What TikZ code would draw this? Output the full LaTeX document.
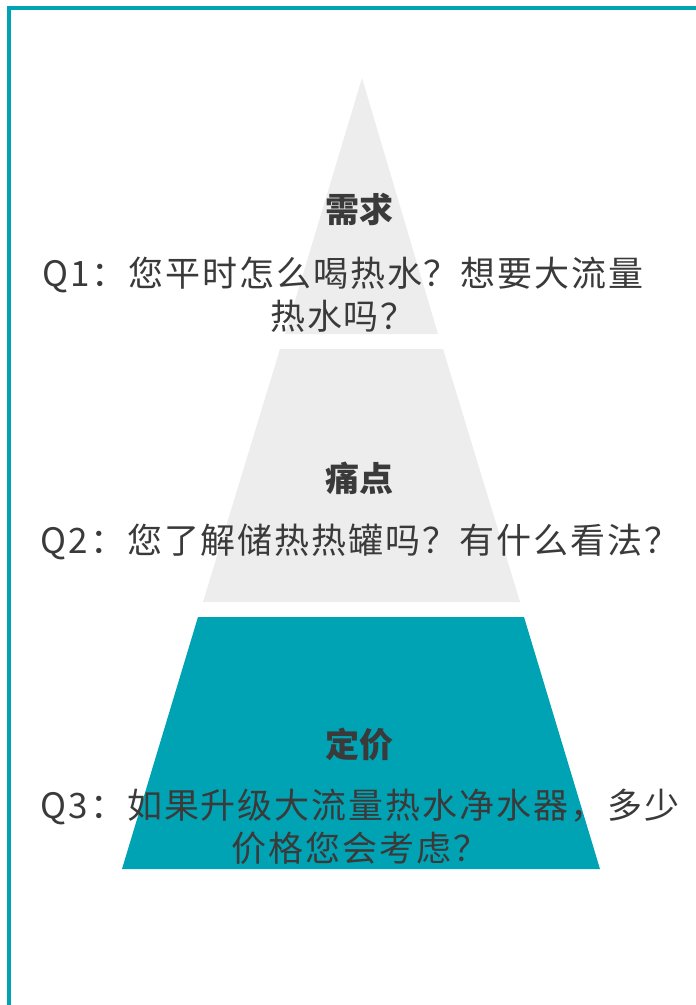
\documentclass[tikz,border=0pt]{standalone}
\usepackage{fontspec}
\newfontfamily\cjk{Noto Sans CJK SC}
\newfontfamily\cjkwide[LetterSpace=5.5]{Noto Sans CJK SC}
\definecolor{teal}{HTML}{00A3B4}
\definecolor{lightgray}{HTML}{EDEDED}
\definecolor{ink}{HTML}{3A3A3A}
\begin{document}
\begin{tikzpicture}[x=1pt,y=-1pt,
	every node/.style = {text=ink, inner sep=0pt},
	title/.style = {font=\cjk\bfseries\fontsize{34}{40}\selectfont},
	question/.style = {font=\cjkwide\fontsize{35}{43}\selectfont, align=center}]

\useasboundingbox (0,0) rectangle (696,1005);

\draw[teal,line width=4pt] (7,8) -- (696,8);
\draw[teal,line width=4pt] (9,6) -- (9,1005);

\fill[lightgray] (362,78) -- (438,334) -- (285,334) -- cycle;
\fill[lightgray] (280,349) -- (443,349) -- (520,602) -- (203,602) -- cycle;
\fill[teal] (198,617) -- (524,617) -- (600,869) -- (122,869) -- cycle;

\node[title] (need) at (359,209) {需求};
\node[question] (q1) at (343,295) {Q1：您平时怎么喝热水？想要大流量\\热水吗？};

\node[title] (pain) at (359,478) {痛点};
\node[question] (q2) at (360,542) {Q2：您了解储热热罐吗？有什么看法？};

\node[title] (price) at (359,745) {定价};
\node[question] (q3) at (360,827) {Q3：如果升级大流量热水净水器，多少\\价格您会考虑？};
\end{tikzpicture}
\end{document}
